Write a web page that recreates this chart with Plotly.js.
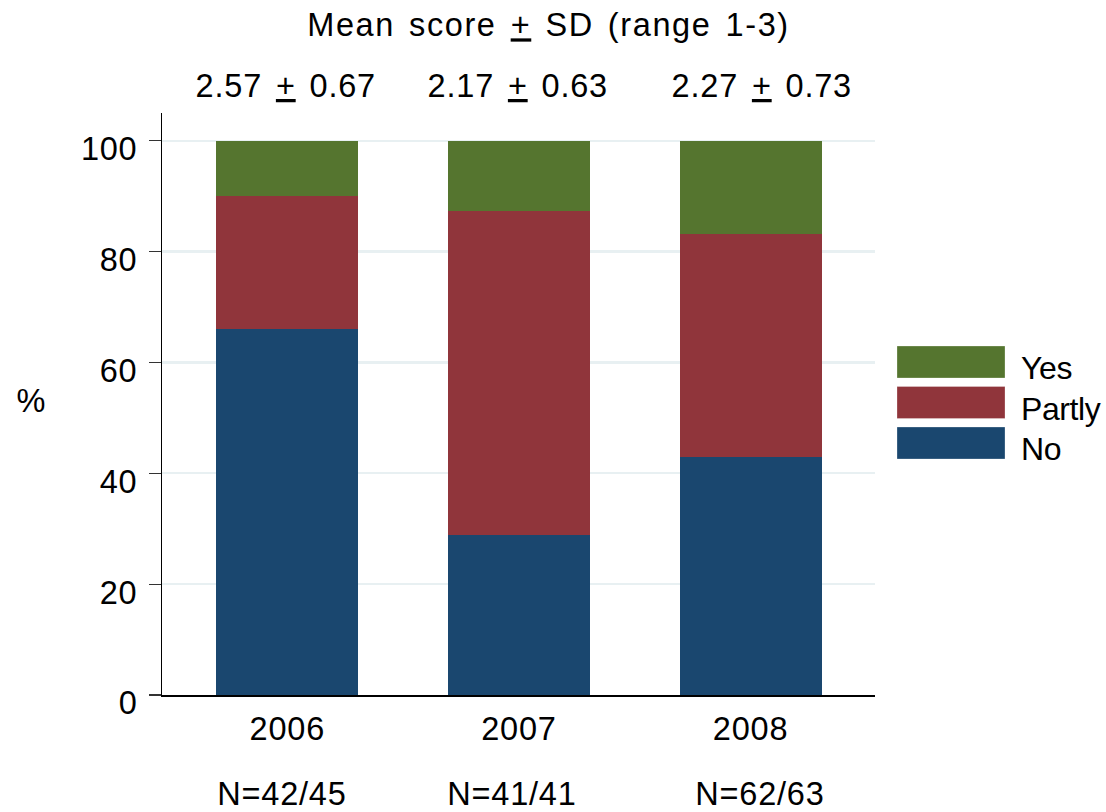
<!DOCTYPE html>
<html>
<head>
<meta charset="utf-8">
<script src="https://cdn.plot.ly/plotly-3.0.1.min.js"></script>
<style>
html,body{margin:0;padding:0;background:#fff;}
#chart{width:1106px;height:812px;}
#chart .main-svg text{letter-spacing:0.8px;word-spacing:4px;}
#chart .main-svg .gtitle{letter-spacing:1.6px;word-spacing:3.5px;}
</style>
</head>
<body>
<div id="chart"></div>
<script>
const years = ["2006", "2007", "2008"];
const noVals = [66.0, 28.8, 42.9];
const partlyVals = [24.0, 58.6, 40.3];
const yesVals = [10.0, 12.6, 16.8];
const yTicks = [0, 20, 40, 60, 80, 100];
const meanLabels = ["2.57 <u>+</u> 0.67", "2.17 <u>+</u> 0.63", "2.27 <u>+</u> 0.73"];
const nLabels = ["N=42/45", "N=41/41", "N=62/63"];
const legendOrder = ["Yes", "Partly", "No"];
const seriesColors = {"No": "#1a476f", "Partly": "#90353b", "Yes": "#55752f"};

const FONT = "Liberation Sans, Arial, sans-serif";
const FS = 32.5;

// plot-area geometry (pixels)
const W = 1106, H = 812;
const ML = 162, MR = 231, MT = 113, MB = 109;
const PW = W - ML - MR, PH = H - MT - MB;
const LABEL_DROP = 8; // y tick labels sit slightly below their ticks
const px = v => (v - ML) / PW;
const py = v => (H - MB - v) / PH;
// small horizontal nudges of the header / footer labels (layout only)
const MEAN_XSHIFT = [-1, -1, 11];
const N_XSHIFT = [-5, -7, 9];

const traces = [
  {name: "No", vals: noVals},
  {name: "Partly", vals: partlyVals},
  {name: "Yes", vals: yesVals}
].map(s => ({
  type: "bar", x: years, y: s.vals, name: s.name, xaxis: "x", yaxis: "y",
  marker: {color: seriesColors[s.name], line: {width: 0}},
  hoverinfo: "skip", showlegend: false
}));
// empty trace that carries the tick-label axis
traces.push({type: "scatter", x: [], y: [], xaxis: "x", yaxis: "y2", hoverinfo: "skip", showlegend: false});

const txtFont = {family: FONT, size: FS, color: "#000"};
const annotations = [];
years.forEach((yr, i) => {
  annotations.push({x: i, xref: "x", xshift: MEAN_XSHIFT[i], y: py(86), yref: "paper", yanchor: "middle",
    text: meanLabels[i], showarrow: false, font: txtFont});
  annotations.push({x: i, xref: "x", xshift: N_XSHIFT[i], y: py(794), yref: "paper", yanchor: "middle",
    text: nLabels[i], showarrow: false, font: txtFont});
});
annotations.push({x: px(31), xref: "paper", xanchor: "center", y: py(401), yref: "paper", yanchor: "middle",
  text: "%", showarrow: false, font: txtFont});

// legend with large swatches
const shapes = [];
const lgX0 = 897, lgX1 = 1005, lgTop = 346, lgH = 32, lgStep = 40.5;
legendOrder.forEach((nm, k) => {
  const y0 = lgTop + k * lgStep;
  shapes.push({type: "rect", xref: "paper", yref: "paper",
    x0: px(lgX0), x1: px(lgX1), y0: py(y0), y1: py(y0 + lgH),
    fillcolor: seriesColors[nm], line: {width: 0.8, color: "rgba(255,255,255,0.35)"}});
  annotations.push({x: px(1019), xref: "paper", xanchor: "left",
    y: py(y0 + 22), yref: "paper", yanchor: "middle",
    text: '<span style="letter-spacing:-0.4px">' + nm + '</span>', showarrow: false,
    font: {family: FONT, size: 32, color: "#000"}});
});

const layout = {
  width: W, height: H,
  margin: {l: ML, r: MR, t: MT, b: MB, pad: 0},
  paper_bgcolor: "#fff", plot_bgcolor: "rgba(0,0,0,0)",
  barmode: "stack", bargap: 0.387,
  title: {text: "Mean score <u>+</u> SD (range 1-3)", x: 548.5 / W, xanchor: "center",
    y: 1 - 25 / H, yanchor: "middle", font: txtFont},
  font: txtFont,
  xaxis: {type: "category", range: [-0.541, 2.537], showgrid: false, zeroline: false,
    showline: true, linecolor: "#000", linewidth: 1.5, ticks: "", ticklabelstandoff: 4,
    anchor: "y", tickfont: txtFont, fixedrange: true},
  yaxis: {domain: [LABEL_DROP / PH, 1], range: [0, 105], tickvals: yTicks, ticks: "outside", ticklen: 12,
    tickcolor: "#333", tickwidth: 1.2, showline: true, linecolor: "#000", linewidth: 1.2,
    showgrid: true, gridcolor: "#e8f0f2", gridwidth: 2.2, zeroline: false,
    showticklabels: false, anchor: "x", fixedrange: true},
  yaxis2: {domain: [0, 1 - LABEL_DROP / PH], range: [0, 105], tickvals: yTicks, ticks: "outside", ticklen: 12,
    tickcolor: "rgba(0,0,0,0)", showline: false, showgrid: false, zeroline: false,
    ticklabelstandoff: 5, anchor: "x", side: "left", tickfont: txtFont, fixedrange: true},
  shapes: shapes,
  annotations: annotations,
  showlegend: false
};

Plotly.newPlot("chart", traces, layout, {displayModeBar: false, staticPlot: true});
</script>
</body>
</html>
